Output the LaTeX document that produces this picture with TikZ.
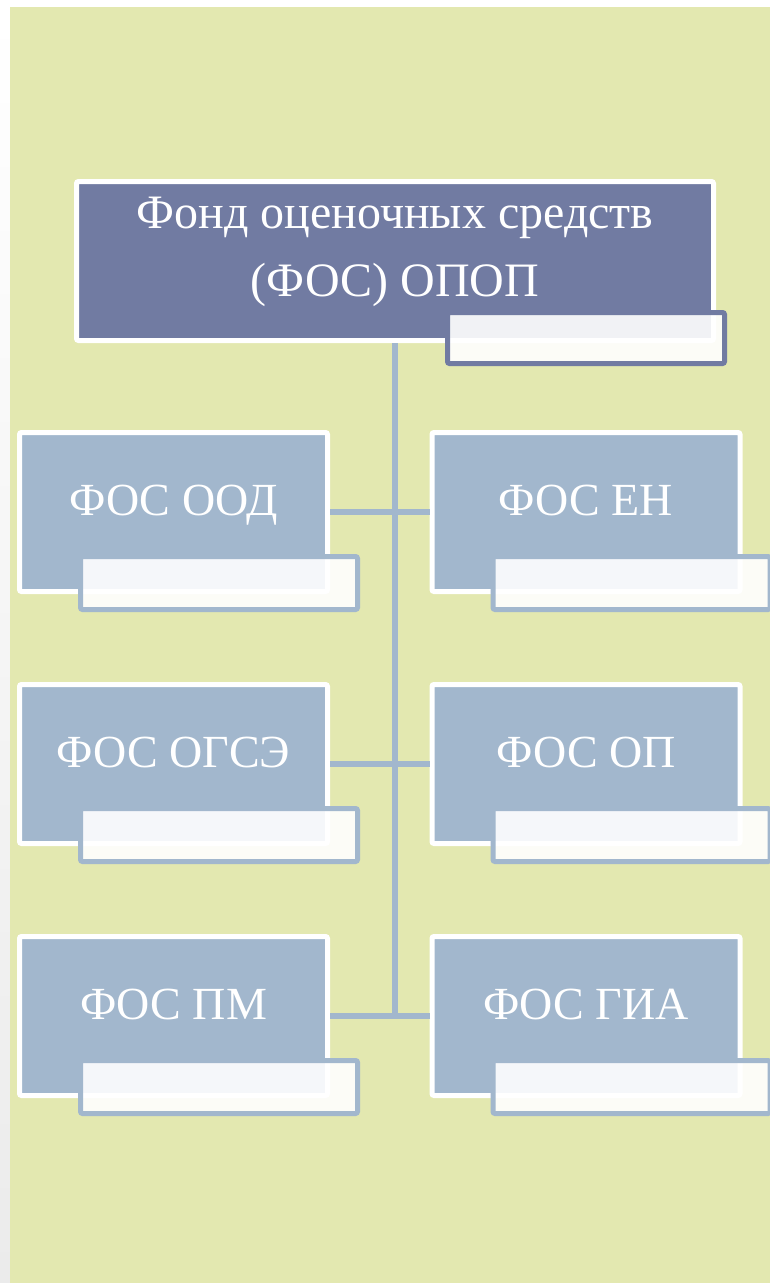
\documentclass[tikz,border=0pt]{standalone}
\usepackage{fontspec}
\setmainfont{Liberation Serif}
\definecolor{bggreen}{HTML}{E3E8B0}
\definecolor{topfill}{HTML}{717BA2}
\definecolor{boxfill}{HTML}{A2B7CD}
\definecolor{stripgray}{HTML}{EBEBEB}
\tikzset{
  mainbox/.style={rectangle, draw=white, line width=5pt, rounded corners=2pt,
    inner sep=0pt, minimum width=308pt, minimum height=159pt, fill=boxfill},
  topbox/.style={mainbox, fill=topfill, minimum width=637pt, minimum height=159pt},
  tab/.style={rectangle, line width=5pt, rounded corners=2pt, inner sep=0pt,
    minimum width=277pt, minimum height=53pt, fill=white, fill opacity=0.9,
    draw opacity=1, anchor=south east},
  smalltab/.style={tab, draw=boxfill, xshift=30pt, yshift=-18pt},
  toptab/.style={tab, draw=topfill, minimum height=51pt, xshift=11pt, yshift=-23pt},
  lbl/.style={text=white, anchor=base, font=\fontsize{46}{55}\selectfont, inner sep=0pt, yshift=-3pt},
  ttl/.style={text=white, align=center, font=\fontsize{48}{68}\selectfont, inner sep=0pt},
  conn/.style={draw=boxfill, line width=5.5pt}
}
\begin{document}
\begin{tikzpicture}[x=1pt,y=-1pt]
\useasboundingbox (0,0) rectangle (770,1283);
\fill[white] (0,0) rectangle (770,1283);
\shade[top color=white, bottom color=stripgray] (0,7) rectangle (10,1283);
\fill[bggreen] (10,7) rectangle (770,1283);

% top box
\node[topbox] (top) at (395,261) {};
\node[toptab] (toptabn) at (top.south east) {};
\node[ttl] (toptext) at (395,251.5) {Фонд оценочных средств\\(ФОС) ОПОП};

% left boxes
\node[mainbox] (ood) at (173.5,512) {};
\node[mainbox] (ogse) at (173.5,764) {};
\node[mainbox] (pm) at (173.5,1016) {};
% right boxes
\node[mainbox] (en) at (586,512) {};
\node[mainbox] (op) at (586,764) {};
\node[mainbox] (gia) at (586,1016) {};

\foreach \b in {ood,ogse,pm,en,op,gia}{
  \node[smalltab] (\b-tab) at (\b.south east) {};
}

\node[lbl] (ood-t) at (ood.center) {ФОС ООД};
\node[lbl] (ogse-t) at (ogse.center) {ФОС ОГСЭ};
\node[lbl] (pm-t) at (pm.center) {ФОС ПМ};
\node[lbl] (en-t) at (en.center) {ФОС ЕН};
\node[lbl] (op-t) at (op.center) {ФОС ОП};
\node[lbl] (gia-t) at (gia.center) {ФОС ГИА};

% connectors
\coordinate (trunkend) at (top.south |- pm.east);
\draw[conn] (top.south) -- ([yshift=-2.75pt]trunkend);
\draw[conn] (ood.east) -- (en.west);
\draw[conn] (ogse.east) -- (op.west);
\draw[conn] (pm.east) -- (gia.west);
\end{tikzpicture}
\end{document}
